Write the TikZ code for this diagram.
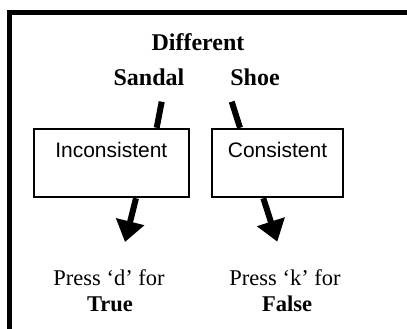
\documentclass[tikz,border=0pt]{standalone}
\usepackage{fontspec}
\setmainfont{Liberation Serif}
\newfontfamily\boxfont{Liberation Sans}
\usetikzlibrary{arrows.meta}

\begin{document}
\begin{tikzpicture}[x=1pt,y=-1pt]
	\useasboundingbox (0,0) rectangle (407,329);
	\clip (0,0) rectangle (407,329);
	\draw[line width=5pt] (9.5,345) |- (425,12.5);

	\begin{scope}[every node/.style={font=\fontsize{24}{28}\selectfont\bfseries,anchor=base}]
		\node (D) at (198,51) {Different};
		\node (S) at (149,85) {Sandal};
		\node (H) at (255,85) {Shoe};
	\end{scope}

	\begin{scope}[every node/.style={draw,line width=2.5pt,inner xsep=0pt,inner ysep=0pt,
			text height=28pt,text depth=40pt,font=\boxfont\fontsize{21}{25}\selectfont}]
		\node[minimum width=155pt] (I) at (111.3,163) {Inconsistent};
		\node[minimum width=131pt] (C) at (277.5,163) {Consistent};
	\end{scope}

	\begin{scope}[every node/.style={font=\fontsize{22.5}{26}\selectfont,anchor=base}]
		\node (Pd) at (109,285) {Press ‘d’ for};
		\node (Td) at (110,311) {\textbf{True}};
		\node (Pk) at (285,285) {Press ‘k’ for};
		\node (Fk) at (287,311) {\textbf{False}};
	\end{scope}

	\coordinate (s1) at (161.7,101.7);
	\coordinate (h1) at (231.7,101.7);
	\coordinate (d1) at (125,242);
	\coordinate (k1) at (277.3,241.7);

	\begin{scope}[line width=6pt, >={Triangle[length=21pt,width=28pt]}]
		\path (s1) edge ([xshift=45.4pt]I.north);
		\path (h1) edge ([xshift=-37.5pt]C.north);
		\path [->] ([xshift=24.7pt]I.south) edge (d1);
		\path [->] ([xshift=-14.2pt]C.south) edge (k1);
	\end{scope}
\end{tikzpicture}
\end{document}
